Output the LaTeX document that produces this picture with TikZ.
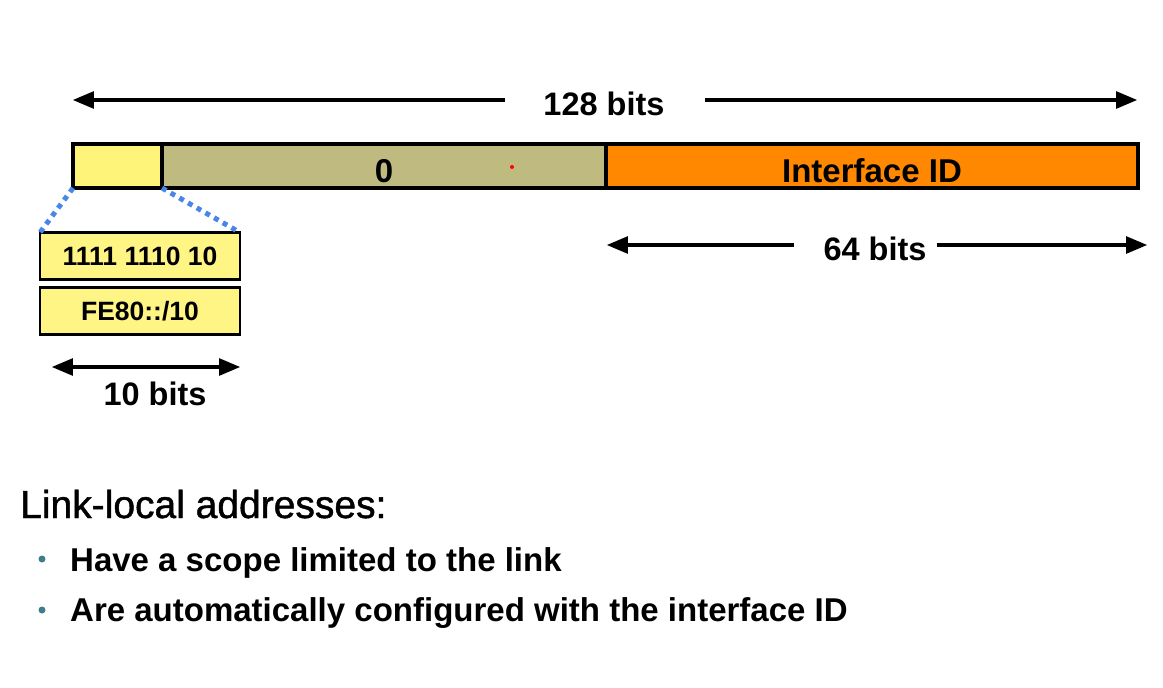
\documentclass[tikz,border=0pt]{standalone}
\usepackage{fontspec}
\setmainfont{Liberation Sans}
\usetikzlibrary{positioning}
\usetikzlibrary{arrows}
\definecolor{prefixyellow}{HTML}{FFF47A}
\definecolor{boxyellow}{HTML}{FFF585}
\definecolor{zeroolive}{HTML}{BFBA80}
\definecolor{iidorange}{HTML}{FF8800}
\definecolor{zoomblue}{HTML}{4A86E8}
\definecolor{bulletteal}{HTML}{3E7E8C}
\tikzset{
    field/.style={
        draw,
        line width=4.5pt,
        outer sep=0pt,
        inner sep=0pt,
        minimum height=44pt,
        text height=32pt,
        text depth=0pt,
        font=\fontsize{33}{36}\selectfont\bfseries
    },
    smallbox/.style={
        draw,
        line width=2.5pt,
        fill=boxyellow,
        outer sep=0pt,
        minimum width=200pt,
        minimum height=47pt,
        font=\fontsize{26.5}{30}\selectfont\bfseries
    },
    dimline/.style={
        draw,
        line width=4pt,
        >=triangle 45
    },
    dimlabel/.style={
        inner sep=0pt,
        text height=30pt,
        text depth=0pt,
        font=\fontsize{32.5}{36}\selectfont\bfseries
    },
    zoomline/.style={
        draw=zoomblue,
        line width=5pt,
        dash pattern=on 5pt off 5pt
    },
    bulletdot/.style={
        circle,
        fill=bulletteal,
        inner sep=0pt,
        minimum size=7pt
    },
    note/.style={
        anchor=base west,
        inner sep=0pt,
        font=\fontsize{33}{38}\selectfont\bfseries
    }
}
\begin{document}
\begin{tikzpicture}[x=1pt, y=-1pt]
    \useasboundingbox (0,0) rectangle (1163,688);

    % address fields
    \node[field, fill=prefixyellow, minimum width=89pt, anchor=west] (pre) at (73,166) {};
    \node[field, fill=zeroolive, minimum width=444pt, right=0pt of pre] (zero) {0};
    \node[field, fill=iidorange, minimum width=532pt, right=0pt of zero] (iid) {Interface ID};
    \fill[red] (512,167) circle (2pt);

    % 128 bits
    \node[dimlabel] (l128) at (604,100) {128 bits};
    \coordinate (w128) at (73,100);
    \coordinate (e128) at (1137,100);
    \draw[dimline, <-] (w128) -- ([xshift=-38pt]l128.west);
    \draw[dimline, ->] ([xshift=40pt]l128.east) -- (e128);

    % 64 bits
    \node[dimlabel] (l64) at (875,245) {64 bits};
    \coordinate (w64) at (607,245);
    \coordinate (e64) at (1147,245);
    \draw[dimline, <-] (w64) -- ([xshift=-29pt]l64.west);
    \draw[dimline, ->] ([xshift=10pt]l64.east) -- (e64);

    % prefix boxes
    \node[smallbox] (bin) at (140,256) {1111 1110 10};
    \node[smallbox, below=8pt of bin] (hex) {FE80::/10};
    \draw[zoomline] (pre.south west) -- (bin.north west);
    \draw[zoomline] (pre.south east) -- (bin.north east);

    % 10 bits
    \coordinate (w10) at (52,367);
    \coordinate (e10) at (240,367);
    \draw[dimline, <->] (w10) -- (e10);
    \node[dimlabel] (l10) at (155,390) {10 bits};

    % notes
    \node[note, font=\fontsize{39}{44}\selectfont\addfontfeature{FakeBold=1.2}] (title) at (20,518) {Link-local addresses:};
    \node[bulletdot] (b1) at (42,559) {};
    \node[bulletdot] (b2) at (42,610) {};
    \node[note] (t1) at (70,571) {Have a scope limited to the link};
    \node[note] (t2) at (70,621) {Are automatically configured with the interface ID};
\end{tikzpicture}
\end{document}
